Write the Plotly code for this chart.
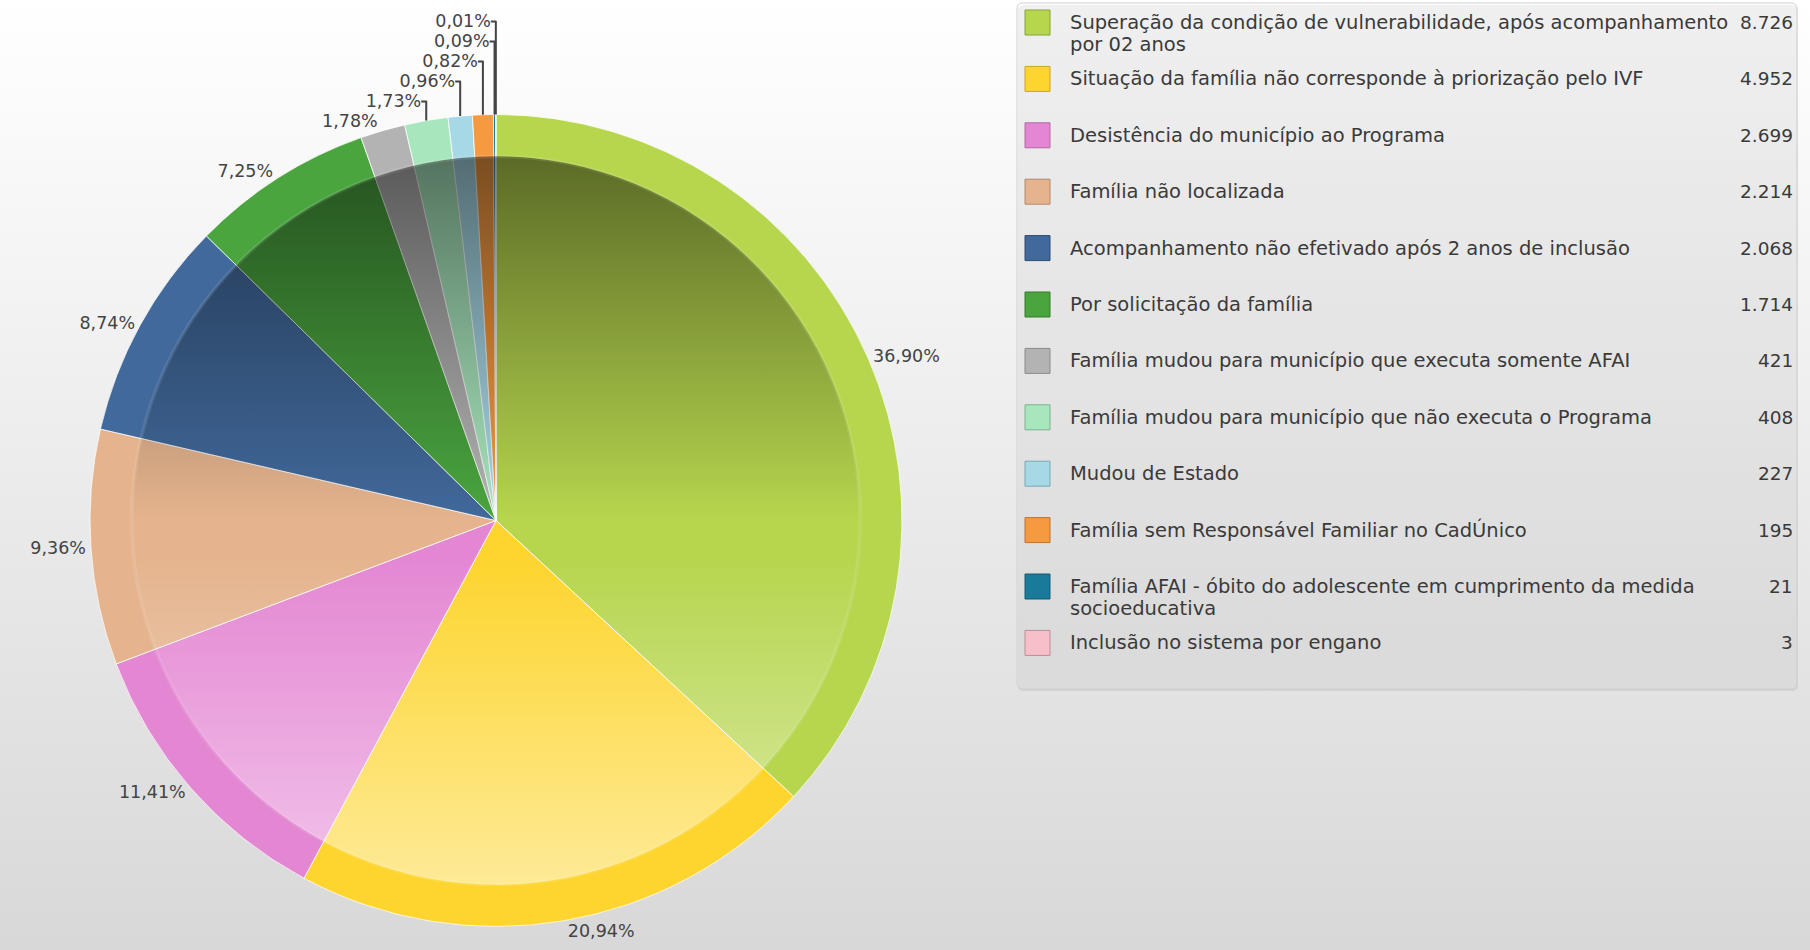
import base64
import plotly.graph_objects as go

# ---------------- data ----------------
categories = [
    "Superação da condição de vulnerabilidade, após acompanhamento por 02 anos",
    "Situação da família não corresponde à priorização pelo IVF",
    "Desistência do município ao Programa",
    "Família não localizada",
    "Acompanhamento não efetivado após 2 anos de inclusão",
    "Por solicitação da família",
    "Família mudou para município que executa somente AFAI",
    "Família mudou para município que não executa o Programa",
    "Mudou de Estado",
    "Família sem Responsável Familiar no CadÚnico",
    "Família AFAI - óbito do adolescente em cumprimento da medida socioeducativa",
    "Inclusão no sistema por engano",
]
legend_lines = [
    ["Superação da condição de vulnerabilidade, após acompanhamento", "por 02 anos"],
    ["Situação da família não corresponde à priorização pelo IVF"],
    ["Desistência do município ao Programa"],
    ["Família não localizada"],
    ["Acompanhamento não efetivado após 2 anos de inclusão"],
    ["Por solicitação da família"],
    ["Família mudou para município que executa somente AFAI"],
    ["Família mudou para município que não executa o Programa"],
    ["Mudou de Estado"],
    ["Família sem Responsável Familiar no CadÚnico"],
    ["Família AFAI - óbito do adolescente em cumprimento da medida", "socioeducativa"],
    ["Inclusão no sistema por engano"],
]
values = [8726, 4952, 2699, 2214, 2068, 1714, 421, 408, 227, 195, 21, 3]
colors = ["#b6d64e", "#fdd52e", "#e487d3", "#e5b48e", "#41699b", "#4aa53f",
          "#b3b3b3", "#a8e6bd", "#a6d8e6", "#f59a40", "#1a7a99", "#f7c0c9"]
square_borders = ["#8aa23a", "#c9a61f", "#b06aa2", "#b08a6c", "#2d4a70", "#35792d",
                  "#8a8a8a", "#7fb08f", "#7aa7b3", "#bb7430", "#125a72", "#b98f96"]

# ---------------- layout constants ----------------
W, H = 1810, 950
CX, CY, R = 496, 520.5, 406
R_IN = 366
FONT = "DejaVu Sans"


def px(x):
    return x / W


def py(y):
    return 1 - y / H


def svg_uri(svg):
    return "data:image/svg+xml;base64," + base64.b64encode(svg.encode("utf-8")).decode("ascii")


bg_svg = ("<svg xmlns='http://www.w3.org/2000/svg' width='100' height='100' viewBox='0 0 100 100' "
          "preserveAspectRatio='none'><defs><linearGradient id='g' x1='0' y1='0' x2='0' y2='1'>"
          "<stop offset='0' stop-color='#ffffff'/><stop offset='1' stop-color='#d8d8d8'/>"
          "</linearGradient></defs><rect width='100' height='100' fill='url(#g)'/></svg>")

shade_svg = ("<svg xmlns='http://www.w3.org/2000/svg' width='200' height='200' viewBox='0 0 200 200' "
             "preserveAspectRatio='none'><defs><linearGradient id='s' x1='0' y1='0' x2='0' y2='1'>"
             "<stop offset='0' stop-color='#000000' stop-opacity='0.5'/>"
             "<stop offset='0.5' stop-color='#000000' stop-opacity='0.0'/>"
             "<stop offset='0.55' stop-color='#ffffff' stop-opacity='0.0'/>"
             "<stop offset='1' stop-color='#ffffff' stop-opacity='0.5'/>"
             "</linearGradient></defs>"
             "<circle cx='100' cy='100' r='99.5' fill='url(#s)' stroke='#ffffff' stroke-opacity='0.1' stroke-width='1'/></svg>")

fig = go.Figure()
fig.add_trace(go.Pie(
    labels=categories,
    values=values,
    sort=False,
    direction="clockwise",
    rotation=0,
    marker=dict(colors=colors, line=dict(color="rgba(255,255,255,0.75)", width=1)),
    textposition="outside",
    texttemplate="%{percent:.2%}",
    outsidetextfont=dict(family=FONT, size=17.5, color="#444444"),
    domain=dict(x=[px(CX - R), px(CX + R)], y=[py(CY + R), py(CY - R)]),
    showlegend=False,
    automargin=False,
    hoverinfo="label+value+percent",
))

images = [
    dict(source=svg_uri(bg_svg), xref="paper", yref="paper", x=0, y=1, sizex=1, sizey=1,
         xanchor="left", yanchor="top", sizing="stretch", layer="below"),
    dict(source=svg_uri(shade_svg), xref="paper", yref="paper",
         x=px(CX - R_IN), y=py(CY - R_IN), sizex=2 * R_IN / W, sizey=2 * R_IN / H,
         xanchor="left", yanchor="top", sizing="stretch", layer="above"),
]

# legend box
LX0, LY0, LX1, LY1 = 1017, 3, 1797, 689
rr = 6
shapes = []


def rounded(x0, y0, x1, y1, r):
    return (f"M {px(x0 + r)},{py(y0)} L {px(x1 - r)},{py(y0)} Q {px(x1)},{py(y0)} {px(x1)},{py(y0 + r)} "
            f"L {px(x1)},{py(y1 - r)} Q {px(x1)},{py(y1)} {px(x1 - r)},{py(y1)} "
            f"L {px(x0 + r)},{py(y1)} Q {px(x0)},{py(y1)} {px(x0)},{py(y1 - r)} "
            f"L {px(x0)},{py(y0 + r)} Q {px(x0)},{py(y0)} {px(x0 + r)},{py(y0)} Z")


shapes.append(dict(type="path", xref="paper", yref="paper", path=rounded(LX0 + 1, LY0 + 2, LX1 + 1, LY1 + 2, rr),
                   line=dict(width=0), fillcolor="rgba(0,0,0,0.07)", layer="below"))
shapes.append(dict(type="path", xref="paper", yref="paper", path=rounded(LX0, LY0, LX1, LY1, rr),
                   line=dict(color="#cfcfcf", width=1), fillcolor="rgba(255,255,255,0.18)", layer="below"))

annotations = []
ROW0, ROWSTEP, LINESTEP = 22.5, 56.4, 21.7
for i, (lines, v, c, bc) in enumerate(zip(legend_lines, values, colors, square_borders)):
    yc = ROW0 + ROWSTEP * i
    shapes.append(dict(type="rect", xref="paper", yref="paper",
                       x0=px(1025), x1=px(1050), y0=py(yc - 12.5), y1=py(yc + 12.5),
                       fillcolor=c, line=dict(color=bc, width=1)))
    for j, t in enumerate(lines):
        annotations.append(dict(text=t, xref="paper", yref="paper", x=px(1068), y=py(yc + j * LINESTEP),
                                xanchor="left", yanchor="middle", showarrow=False,
                                font=dict(family=FONT, size=19.5, color="#3a3a3a")))
    annotations.append(dict(text=f"{v:,}".replace(",", "."), xref="paper", yref="paper", x=px(1795), y=py(yc),
                            xanchor="right", yanchor="middle", showarrow=False,
                            font=dict(family=FONT, size=18.5, color="#3a3a3a")))

fig.update_layout(
    width=W, height=H,
    margin=dict(l=0, r=0, t=0, b=0),
    paper_bgcolor="#ececec",
    plot_bgcolor="rgba(0,0,0,0)",
    separators=",.",
    images=images,
    shapes=shapes,
    annotations=annotations,
    showlegend=False,
)

fig.write_html("out.html", config={"displayModeBar": False},
               post_script="document.body.style.margin='0';document.body.style.overflow='hidden';")
